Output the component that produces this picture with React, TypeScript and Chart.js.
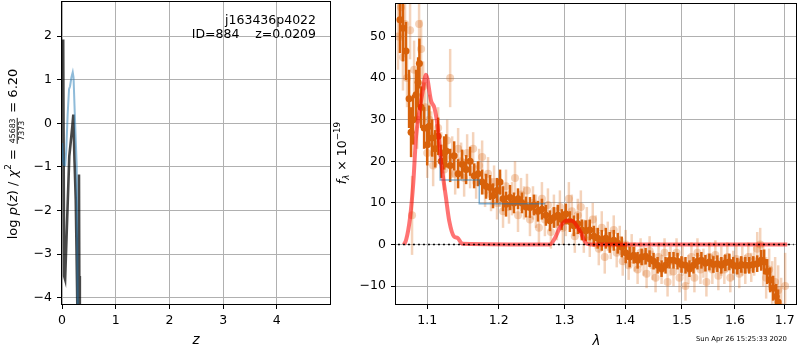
import React, { useEffect, useRef } from 'react';
import { Chart, registerables } from 'chart.js';
Chart.register(...registerables);

// ---------------- left panel: log p(z) ----------------
const zTicks = [0, 1, 2, 3, 4];
const logpTicks = [-4, -3, -2, -1, 0, 1, 2];
const grayZ = [0.022, 0.040, 0.058, 0.136, 0.165, 0.190, 0.211, 0.233, 0.256, 0.272, 0.290, 0.305, 0.316, 0.322, 0.332];
const grayLogp = [1.92, -3.50, -3.58, -0.75, -0.40, -0.10, 0.20, -0.85, -1.75, -3.00, -4.60, -6.50, -1.17, -3.50, -7.00];
const blueZ = [0.004, 0.020, 0.035, 0.060, 0.080, 0.105, 0.131, 0.150, 0.175, 0.200, 0.215, 0.240, 0.274, 0.293, 0.310];
const blueLogp = [-0.45, -0.85, -0.95, -0.96, -0.60, 0.20, 0.78, 0.85, 1.05, 1.17, 1.05, 0.15, -0.98, -4.30, -7.00];

// ---------------- right panel: spectrum ----------------
const lamTicks = [1.1, 1.2, 1.3, 1.4, 1.5, 1.6, 1.7];
const fluxTicks = [-10, 0, 10, 20, 30, 40, 50];

const binLam = [
  1.0641, 1.0680, 1.0720, 1.0760, 1.0786, 1.0812, 1.0852, 1.0879, 1.0896, 1.0919,
  1.0959, 1.1000, 1.1027, 1.1067, 1.1107, 1.1148, 1.1189, 1.1230, 1.1257, 1.1312,
  1.1367, 1.1422, 1.1478, 1.1534, 1.1590, 1.1647, 1.1704, 1.1761, 1.1818, 1.1875,
  1.1918, 1.1976, 1.2020, 1.2064, 1.2108, 1.2167,
  1.2226, 1.2286, 1.2346, 1.2406, 1.2466, 1.2527, 1.2588, 1.2649, 1.2711, 1.2773,
  1.2835, 1.2898, 1.2960, 1.3023, 1.3087, 1.3150, 1.3214, 1.3279, 1.3343, 1.3408,
  1.3474, 1.3539, 1.3605, 1.3672, 1.3738, 1.3805, 1.3872, 1.3940, 1.4007,
  1.4075, 1.4144, 1.4212, 1.4282, 1.4351, 1.4421, 1.4491, 1.4562, 1.4633, 1.4704,
  1.4775, 1.4847, 1.4920, 1.4992, 1.5065, 1.5138, 1.5212, 1.5286, 1.5360, 1.5435,
  1.5510, 1.5585, 1.5661, 1.5737, 1.5814, 1.5891, 1.5968, 1.6046, 1.6124, 1.6203,
  1.6281, 1.6361, 1.6440, 1.6520,
  1.6580, 1.6641, 1.6701, 1.6762, 1.6824, 1.6865,
];
const binFlux = [
  54, 52, 46.5, 35, 27, 30, 36, 39, 43.5, 33,
  28, 24, 28.4, 25.6, 23, 26, 20, 22, 22.5, 19,
  21.3, 17, 19.3, 18, 20, 16.5, 17, 15, 14, 13.7,
  11.7, 13, 15, 11, 9.7, 11.3,
  10, 11, 10, 9, 8.9, 9.5, 8, 8.5, 7, 5.7,
  6.5, 7, 6, 7.3, 5.5, 4.5, 5, 3.5, 3.3, 3.5,
  2, 1.5, 1, 1.5, 0.5, 1, 0.3, -0.6, -2,
  -3, -2.6, -3.8, -3, -2.8, -3.4, -4, -5, -5.8, -5,
  -3.8, -3.8, -4, -4.8, -5, -5.8, -5, -4, -3.8, -4.5,
  -4.2, -4.8, -4.6, -5, -4.4, -4.2, -5, -5.2, -4.8, -5,
  -5, -4.8, -4.6, -3.8,
  -4.2, -6.5, -8.5, -10.5, -12.5, -13.8,
];
const binErr = [
  8, 8, 7, 7, 6, 6, 6, 6, 6, 5,
  5, 5, 5, 4.5, 4.5, 4.5, 4, 4, 4, 4,
  3.5, 3.5, 3.5, 3.5, 3.5, 3, 3, 3, 3, 3,
  3, 3, 3, 3, 3, 3,
  2.5, 2.5, 2.5, 2.5, 2.5, 2.5, 2.5, 2.5, 2.5, 2.5,
  2.5, 2.5, 2.5, 2.5, 2.5, 2.5, 2.5, 2.5, 2.5, 2.5,
  2.5, 2.5, 2.5, 2.5, 2.5, 2.5, 2.5, 2.5, 2.5,
  2.5, 2, 2, 2, 2, 2, 2, 2, 2, 2,
  2, 2, 2, 2, 2, 2, 2, 2, 2, 2,
  2, 2, 2, 2, 2, 2, 2, 2, 2, 2,
  2, 2, 2, 2.5,
  3, 3, 3, 3, 3, 3,
];

const rawLam = [
  1.0616, 1.0654, 1.0680, 1.0707, 1.0733, 1.0773, 1.0799, 1.0826, 1.0866, 1.0892,
  1.0919, 1.0946, 1.0973, 1.1000, 1.1027, 1.1054, 1.1080, 1.1121, 1.1148, 1.1189,
  1.1230, 1.1271, 1.1312, 1.1340, 1.1381,
  1.1422, 1.1464, 1.1506, 1.1548, 1.1590, 1.1633, 1.1675, 1.1718, 1.1761, 1.1803,
  1.1846, 1.1889, 1.1933, 1.1976, 1.2020, 1.2064, 1.2108, 1.2152, 1.2197, 1.2241,
  1.2286, 1.2331, 1.2376, 1.2421, 1.2466, 1.2512, 1.2557, 1.2603, 1.2649, 1.2695,
  1.2742, 1.2788, 1.2835, 1.2882, 1.2929, 1.2976, 1.3023, 1.3071, 1.3118, 1.3166,
  1.3214, 1.3263, 1.3311, 1.3360, 1.3408, 1.3457, 1.3506, 1.3556, 1.3605, 1.3655,
  1.3705, 1.3755, 1.3805, 1.3855, 1.3906, 1.3957, 1.4007, 1.4058, 1.4110, 1.4161,
  1.4212, 1.4264, 1.4316, 1.4368, 1.4421, 1.4473, 1.4526, 1.4579, 1.4633, 1.4686,
  1.4740, 1.4793, 1.4847, 1.4902, 1.4956, 1.5011, 1.5065, 1.5120, 1.5175, 1.5230,
  1.5286, 1.5342, 1.5398, 1.5454, 1.5510, 1.5566, 1.5623, 1.5680, 1.5737, 1.5795,
  1.5852, 1.5910, 1.5968, 1.6027, 1.6085, 1.6144, 1.6203, 1.6262, 1.6321, 1.6380,
  1.6440, 1.6500, 1.6560, 1.6620, 1.6681, 1.6742, 1.6803, 1.6865, 1.6926, 1.7009,
];
const rawFlux = [
  50, 57, 45, 53, 40, 51.5, 7, 42, 30, 53,
  47, 38, 33, 22, 30, 26, 19, 24, 28, 22,
  18, 25, 40, 21, 17,
  23, 20, 16, 22, 18, 23, 15, 19, 21, 13,
  17, 12, 15, 10, 13, 8, 14, 9, 11, 16,
  7, 12, 10, 13, 6, 10, 8, 4, 11, 6,
  9.5, 3, 8, 5, 9, 4, 6, 11, 8, 2,
  7, 9, 2, 5, 1, 6, 3, -1, 4, -3,
  2, 0, 3.5, -2, 1, -4, 0, -5, -1, -3,
  -6, -2, -4, -7, -1.5, -5, -8, -3, -6, -2,
  -9, -4, -6.5, -2, -8, -4, -10, -6, -3, -8,
  -2, -6, -4.5, -9, -3, -6, -2.5, -7.5, -4, -6,
  -3, -8, -5, -3.5, -7, -4, -6, -3, -5.5, -4,
  -1, 0, -5, -8, -6, -10, -9, -11, -15, -10,
];
const rawErr = [
  8, 8, 8, 8, 7, 7, 9.5, 7, 7, 7,
  7, 6, 6, 6, 6, 6, 5, 5, 5, 5,
  5, 5, 7, 5, 5,
  5, 4.5, 4.5, 4.5, 4.5, 4, 4, 4, 4, 4,
  4, 4, 4, 4, 4, 4, 4, 4, 4, 4,
  4, 4, 4, 4, 4, 4, 4, 4, 4, 4,
  4, 4, 4, 4, 4, 4, 4, 4, 4, 4,
  4, 4, 4, 4, 4, 4, 4, 4, 4, 4,
  3.5, 3.5, 3.5, 3.5, 3.5, 3.5, 3.5, 3.5, 3.5, 3.5,
  3.5, 3.5, 3.5, 3.5, 3.5, 3.5, 3.5, 3.5, 3.5, 3.5,
  3.5, 3.5, 3.5, 3.5, 3.5, 3.5, 3.5, 3.5, 3.5, 3.5,
  3.5, 3.5, 3.5, 3.5, 3.5, 3.5, 3.5, 3.5, 3.5, 3.5,
  3.5, 3.5, 3.5, 3.5, 3.5, 3.5, 3.5, 3.5, 3.5, 3.5,
  4, 4, 5, 5, 5, 6, 6, 6, 7, 8,
];

const lineLam = [1.0690, 1.0720, 1.0773, 1.0816, 1.0852, 1.0896, 1.0941, 1.0983, 1.1054, 1.1098, 1.1143, 1.1187, 1.1254, 1.1299, 1.1367, 1.1413, 1.1481, 1.2773, 1.2850, 1.2929, 1.3030, 1.3117, 1.3247, 1.3357, 1.3420, 1.7054];
const lineFlux = [0, 1, 6.5, 15, 26, 32, 37, 40.8, 34.4, 32.8, 28, 20, 11.3, 5.7, 1.9, 1.6, 0.2, 0, 1.5, 4.1, 5.7, 5.7, 3.3, 0.2, 0, 0];

const contLam = [1.1175, 1.1720, 1.1990, 1.2700];
const contFlux = [21.3, 15.5, 9.8, 9.8];

const zeroLam = [1.0615, 1.7187];
const zeroFlux = [0, 0];

const FONT = '"DejaVu Sans", sans-serif';
const DARK = 'rgb(216,97,10)';
const LIGHT = 'rgba(216,97,10,0.28)';
const GRID = '#b0b0b0';

const pts = (xs: number[], ys: number[]) => xs.map((x, i) => ({ x, y: ys[i] }));
const fmtNum = (v: number) => (v < 0 ? '\u2212' + Math.abs(v) : String(v));
const f = (size: number, it?: boolean) => `${it ? 'italic ' : ''}${size}px ${FONT}`;

type Run = { t?: string; it?: boolean; sc?: number; dy?: number; frac?: [string, string] };

function drawRuns(ctx: CanvasRenderingContext2D, runs: Run[], size: number) {
  const fs = 0.6;
  const widths = runs.map((r) => {
    if (r.frac) {
      ctx.font = f(size * fs);
      return Math.max(ctx.measureText(r.frac[0]).width, ctx.measureText(r.frac[1]).width) + size * 0.25;
    }
    ctx.font = f(size * (r.sc ?? 1), r.it);
    return ctx.measureText(r.t || '').width;
  });
  const total = widths.reduce((a, b) => a + b, 0);
  let x = -total / 2;
  runs.forEach((r, i) => {
    const w = widths[i];
    if (r.frac) {
      ctx.font = f(size * fs);
      ctx.textAlign = 'center';
      ctx.fillText(r.frac[0], x + w / 2, -size * 0.1);
      ctx.fillText(r.frac[1], x + w / 2, size * 0.55);
      ctx.fillRect(x + size * 0.08, size * 0.02, w - size * 0.16, 0.9);
      ctx.textAlign = 'left';
    } else {
      ctx.font = f(size * (r.sc ?? 1), r.it);
      ctx.textAlign = 'left';
      ctx.fillText(r.t || '', x, -(r.dy ?? 0) * size);
    }
    x += w;
  });
}

function frame(chart: any) {
  const { ctx, chartArea: a } = chart;
  ctx.save();
  ctx.strokeStyle = '#000';
  ctx.lineWidth = 1;
  ctx.strokeRect(Math.round(a.left) - 0.5, Math.round(a.top) - 0.5, Math.round(a.right - a.left) + 1, Math.round(a.bottom - a.top) + 1);
  ctx.restore();
}

const errorBarPlugin = {
  id: 'errbars',
  beforeDatasetDraw(chart: any, args: any) {
    const ds = chart.data.datasets[args.index];
    if (!ds.errors) return;
    const { ctx, chartArea: a } = chart;
    const xs = chart.scales.x, ys = chart.scales.y;
    ctx.save();
    ctx.beginPath();
    ctx.rect(a.left, a.top, a.right - a.left, a.bottom - a.top);
    ctx.clip();
    ctx.strokeStyle = ds.errColor;
    ctx.lineWidth = ds.errWidth;
    ds.data.forEach((p: any, i: number) => {
      const e = ds.errors[i];
      const px = xs.getPixelForValue(p.x);
      ctx.beginPath();
      ctx.moveTo(px, ys.getPixelForValue(p.y - e));
      ctx.lineTo(px, ys.getPixelForValue(p.y + e));
      ctx.stroke();
    });
    ctx.restore();
  },
};

const leftDecor = {
  id: 'leftDecor',
  afterDraw(chart: any) {
    frame(chart);
    const { ctx } = chart;
    ctx.save();
    ctx.fillStyle = '#000';
    ctx.textBaseline = 'alphabetic';
    ctx.textAlign = 'right';
    ctx.font = f(12.5);
    ctx.fillText('j163436p4022', 316, 24);
    ctx.fillText('ID=884    z=0.0209', 316, 38);
    ctx.textAlign = 'center';
    ctx.textBaseline = 'middle';
    ctx.font = f(13.5, true);
    ctx.fillText('z', 196, 340);
    ctx.restore();
    ctx.save();
    ctx.fillStyle = '#000';
    ctx.textBaseline = 'alphabetic';
    ctx.translate(16.5, 154);
    ctx.rotate(-Math.PI / 2);
    drawRuns(ctx, [
      { t: 'log ' }, { t: 'p', it: true }, { t: '(' }, { t: 'z', it: true }, { t: ') / ' },
      { t: '\u03c7', it: true }, { t: '2', sc: 0.7, dy: 0.45 }, { t: ' = ' },
      { frac: ['45683', '7373'] }, { t: ' = 6.20' },
    ], 13);
    ctx.restore();
  },
};

const rightDecor = {
  id: 'rightDecor',
  afterDraw(chart: any) {
    frame(chart);
    const { ctx } = chart;
    ctx.save();
    ctx.fillStyle = '#000';
    ctx.textAlign = 'center';
    ctx.textBaseline = 'middle';
    ctx.font = f(13.5, true);
    ctx.fillText('\u03bb', 596.5 - 332, 341);
    ctx.textAlign = 'right';
    ctx.font = f(6.9);
    ctx.fillText('Sun Apr 26 15:25:33 2020', 787 - 332, 339);
    ctx.restore();
    ctx.save();
    ctx.fillStyle = '#000';
    ctx.textBaseline = 'alphabetic';
    ctx.translate(346 - 332, 153);
    ctx.rotate(-Math.PI / 2);
    drawRuns(ctx, [
      { t: 'f', it: true }, { t: '\u03bb', it: true, sc: 0.7, dy: -0.2 }, { t: ' \u00d7 10' },
      { t: '\u221219', sc: 0.7, dy: 0.45 },
    ], 12.5);
    ctx.restore();
  },
};

function axisCfg(type: string, min: number, max: number, ticks: number[], fmt: (v: number) => string, fit: (s: any) => void, pad: number) {
  return {
    type,
    min,
    max,
    afterBuildTicks: (s: any) => { s.ticks = ticks.map((v) => ({ value: v })); },
    afterFit: (s: any) => {
      fit(s);
      s.paddingTop = 0; s.paddingBottom = 0; s.paddingLeft = 0; s.paddingRight = 0;
    },
    grid: { color: GRID, lineWidth: 1, tickColor: '#000', tickLength: 5, drawTicks: true },
    border: { display: false },
    ticks: {
      color: '#000',
      font: { family: 'DejaVu Sans', size: 12.5 },
      padding: pad,
      autoSkip: false,
      maxRotation: 0,
      callback: (v: any) => fmt(Number(v)),
    },
  };
}

export default function App() {
  const leftRef = useRef<HTMLCanvasElement>(null);
  const rightRef = useRef<HTMLCanvasElement>(null);

  useEffect(() => {
    document.body.style.margin = '0';
    const common = {
      animation: false as const,
      responsive: false,
      devicePixelRatio: 1,
      events: [] as any[],
      plugins: { legend: { display: false }, tooltip: { enabled: false } },
    };

    const left = new Chart(leftRef.current!, {
      type: 'scatter',
      data: {
        datasets: [
          {
            data: pts(blueZ, blueLogp), showLine: true, pointRadius: 0,
            borderColor: 'rgba(31,119,180,0.5)', borderWidth: 2, order: 0, clip: 0,
          } as any,
          {
            data: pts(grayZ, grayLogp), showLine: true, pointRadius: 0,
            borderColor: 'rgba(0,0,0,0.72)', borderWidth: 2.6, order: 1, clip: 0,
          } as any,
        ],
      },
      options: {
        ...common,
        layout: { padding: { top: 2, right: 2, left: 0, bottom: 0 } },
        scales: {
          x: axisCfg('linear', 0, 4.99, zTicks, fmtNum, (s: any) => { s.height = 46; }, 4),
          y: axisCfg('linear', -4.14, 2.78, logpTicks, fmtNum, (s: any) => { s.width = 62; }, 5),
        },
      } as any,
      plugins: [leftDecor],
    });

    const right = new Chart(rightRef.current!, {
      type: 'scatter',
      data: {
        datasets: [
          {
            data: pts(zeroLam, zeroFlux), showLine: true, pointRadius: 0,
            borderColor: '#000', borderWidth: 1.5, borderDash: [2, 3], order: 0, clip: 0,
          } as any,
          {
            data: pts(lineLam, lineFlux), showLine: true, pointRadius: 0,
            borderColor: 'rgba(255,0,0,0.55)', borderWidth: 4, order: 1, clip: 0,
            cubicInterpolationMode: 'monotone',
          } as any,
          {
            data: pts(contLam, contFlux), showLine: true, pointRadius: 0, stepped: 'after',
            borderColor: 'rgba(31,119,180,0.55)', borderWidth: 1.5, order: 2, clip: 0,
          } as any,
          {
            data: pts(binLam, binFlux), pointRadius: 3.5, pointBackgroundColor: DARK,
            pointBorderWidth: 0, order: 3, clip: 0,
            errors: binErr, errColor: DARK, errWidth: 2.5,
          } as any,
          {
            data: pts(rawLam, rawFlux), pointRadius: 4, pointBackgroundColor: LIGHT,
            pointBorderWidth: 0, order: 4, clip: 0,
            errors: rawErr, errColor: LIGHT, errWidth: 2.5,
          } as any,
        ],
      },
      options: {
        ...common,
        layout: { padding: { top: 2, right: 3, left: 0, bottom: 0 } },
        scales: {
          x: axisCfg('logarithmic', 1.059, 1.7235, lamTicks, (v) => v.toFixed(1), (s: any) => { s.height = 46; }, 4),
          y: axisCfg('linear', -14.3, 57.8, fluxTicks, fmtNum, (s: any) => { s.width = 64; }, 5),
        },
      } as any,
      plugins: [errorBarPlugin, rightDecor],
    });

    return () => { left.destroy(); right.destroy(); };
  }, []);

  return (
    <div style={{ position: 'fixed', left: 0, top: 0, width: 800, height: 350, background: '#fff' }}>
      <canvas ref={leftRef} width={332} height={350} style={{ position: 'absolute', left: 0, top: 0, width: 332, height: 350 }} />
      <canvas ref={rightRef} width={468} height={350} style={{ position: 'absolute', left: 332, top: 0, width: 468, height: 350 }} />
    </div>
  );
}
